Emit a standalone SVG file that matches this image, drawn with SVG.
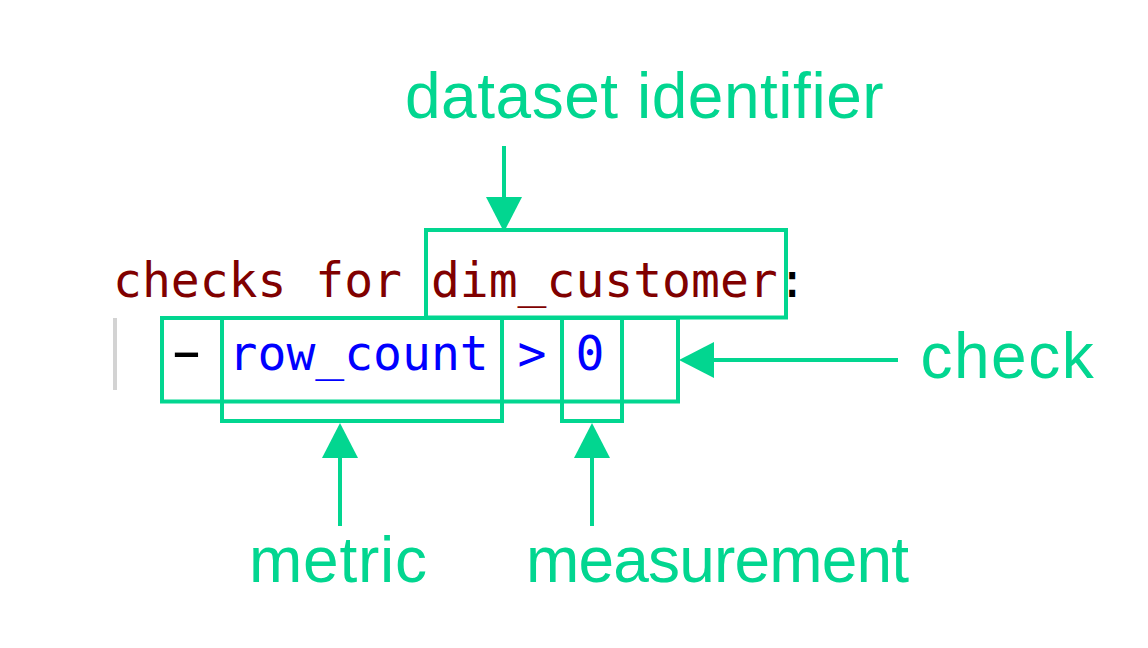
<svg xmlns="http://www.w3.org/2000/svg" width="1148" height="648" viewBox="0 0 1148 648">
  <style>
    .code { font-family: "DejaVu Sans Mono", "Liberation Mono", monospace; font-size: 48px; }
    .kw { fill: #800000; }
    .val { fill: #0000ff; }
    .punct { fill: #000000; }
    .label { font-family: "Liberation Sans", Arial, Helvetica, sans-serif; font-size: 64px; fill: #02d690; }
    .box { fill: none; stroke: #02d690; stroke-width: 4; }
    .conn line { stroke: #02d690; stroke-width: 4; }
    .conn polygon { fill: #02d690; }
  </style>

  <rect width="1148" height="648" fill="#ffffff"/>

  <!-- YAML snippet -->
  <g id="code" class="code">
    <rect x="113" y="318" width="4" height="72" fill="#d3d3d3"/>
    <text y="297"><tspan class="kw" x="113">checks for</tspan><tspan class="kw" x="430.9">dim_customer</tspan><tspan class="punct" x="777.7">:</tspan></text>
    <!-- list marker, stretched to the editor's wide dash -->
    <text class="punct" x="0" y="0" text-anchor="middle" transform="translate(186.5 370) scale(1.9 1.15)">-</text>
    <text y="370"><tspan class="val" x="228.6">row_count</tspan><tspan class="val" x="517.6">&gt;</tspan><tspan class="val" x="575.4">0</tspan></text>
  </g>

  <!-- highlight boxes -->
  <g id="box-dataset"><rect class="box" x="426" y="230" width="360" height="87.5"/></g>
  <g id="box-check"><rect class="box" x="162" y="318" width="516" height="83.5"/></g>
  <g id="box-metric"><rect class="box" x="222" y="318" width="280" height="103"/></g>
  <g id="box-measurement"><rect class="box" x="562" y="318" width="60" height="103"/></g>

  <!-- labels -->
  <g id="label-dataset"><text class="label" x="405" y="118" textLength="478.6" lengthAdjust="spacing">dataset identifier</text></g>
  <g id="label-check"><text class="label" x="920.5" y="378" textLength="173.2" lengthAdjust="spacing">check</text></g>
  <g id="label-metric"><text class="label" x="249" y="582" textLength="178" lengthAdjust="spacing">metric</text></g>
  <g id="label-measurement"><text class="label" x="526" y="582" textLength="383" lengthAdjust="spacing">measurement</text></g>

  <!-- connectors -->
  <g id="connectors" class="conn">
    <line x1="504" y1="146" x2="504" y2="200"/>
    <polygon points="486,197 522,197 504,232"/>

    <line x1="898" y1="360" x2="712" y2="360"/>
    <polygon points="714,342 714,378 679,360"/>

    <line x1="340" y1="526" x2="340" y2="456"/>
    <polygon points="322,458 358,458 340,423"/>

    <line x1="592" y1="526" x2="592" y2="456"/>
    <polygon points="574,458 610,458 592,423"/>
  </g>
</svg>
